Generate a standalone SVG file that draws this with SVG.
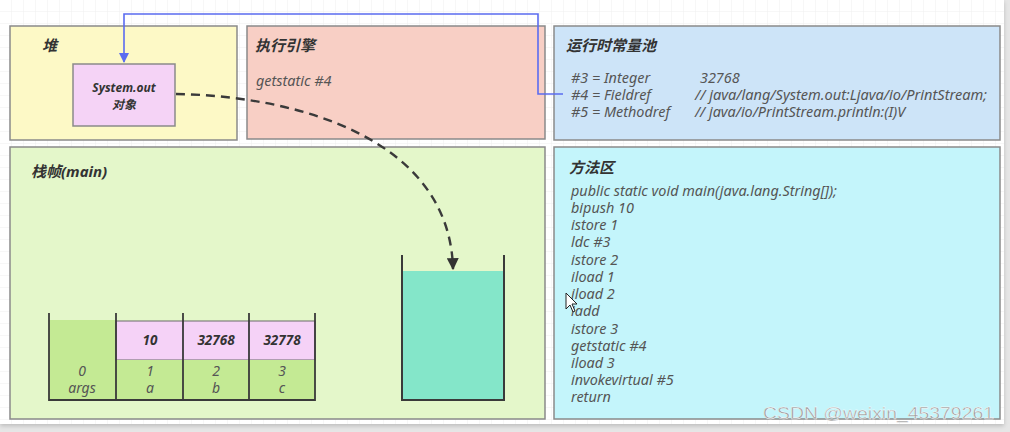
<svg xmlns="http://www.w3.org/2000/svg" width="1010" height="432" viewBox="0 0 1010 432">
<defs>
<style>
.box{stroke:#8a8a8a;stroke-width:1.5}
.title{font-family:"Noto Sans","Noto Sans CJK SC",sans-serif;font-weight:bold;font-style:italic;font-size:15px;fill:#333}
.code{font-family:"Noto Sans","Noto Sans CJK SC",sans-serif;font-style:italic;font-size:14.4px;fill:#555}
.cell{font-family:"Noto Sans",sans-serif;font-style:italic;font-size:14px;fill:#555;text-anchor:middle}
.val{font-family:"Noto Sans",sans-serif;font-style:italic;font-weight:bold;font-size:13.5px;fill:#333;text-anchor:middle}
.wall{stroke:#3a3a3a;stroke-width:2;fill:none}
</style>
<pattern id="grid" width="12" height="12" patternUnits="userSpaceOnUse">
<path d="M12 0V12M0 12H12" stroke="#efefef" stroke-width="1" fill="none"/>
</pattern>
<marker id="blueHead" viewBox="0 0 10 10" refX="9" refY="5" markerWidth="10" markerHeight="10" markerUnits="userSpaceOnUse" orient="auto">
<path d="M0 0L10 5L0 10z" fill="#5b6cf0"/>
</marker>
<marker id="darkHead" viewBox="0 0 10 10" refX="9" refY="5" markerWidth="12" markerHeight="12" markerUnits="userSpaceOnUse" orient="auto">
<path d="M0 0L10 5L0 10z" fill="#333"/>
</marker>
<filter id="sh" x="-5%" y="-5%" width="110%" height="115%">
<feDropShadow dx="0" dy="2" stdDeviation="2" flood-color="#000" flood-opacity="0.18"/>
</filter>
</defs>
<rect x="0" y="0" width="1010" height="432" fill="#e6e6e6"/>
<rect x="0" y="0" width="1004" height="424" fill="#fff" filter="url(#sh)"/>
<rect x="0" y="0" width="1004" height="424" fill="url(#grid)"/>

<g id="heap">
<rect class="box" x="10" y="26" width="227" height="114" fill="#fdf9c6"/>
<text class="title" x="42" y="51">堆</text>
</g>
<g id="system-out">
<rect class="box" x="73" y="64" width="102" height="62" fill="#f5d3f6"/>
<text class="val" x="124" y="92" style="font-size:12px">System.out</text>
<text class="val" x="124" y="109" style="font-family:'Noto Sans CJK SC',sans-serif;font-size:12px">对象</text>
</g>
<g id="exec-engine">
<rect class="box" x="247" y="26" width="298" height="113" fill="#f8cfc5"/>
<text class="title" x="255" y="51">执行引擎</text>
<text class="code" x="256" y="86">getstatic #4</text>
</g>
<g id="constant-pool">
<rect class="box" x="554" y="26" width="446" height="114" fill="#cde4f8"/>
<text class="title" x="566" y="51">运行时常量池</text>
<text class="code" x="571" y="83">#3 = Integer</text>
<text class="code" x="700" y="83">32768</text>
<text class="code" x="571" y="100">#4 = Fieldref</text>
<text class="code" x="695" y="100" textLength="292" lengthAdjust="spacingAndGlyphs">// java/lang/System.out:Ljava/io/PrintStream;</text>
<text class="code" x="571" y="117">#5 = Methodref</text>
<text class="code" x="695" y="117">// java/io/PrintStream.println:(I)V</text>
</g>
<g id="stack-frame">
<rect class="box" x="10" y="147" width="535" height="272" fill="#e4f7ca"/>
<text class="title" x="31" y="177">栈帧(main)</text>
</g>
<g id="local-vars">
<rect x="49" y="320" width="67" height="80" fill="#c4ea94"/>
<rect x="116" y="321" width="199" height="39" fill="#f5d2f7" stroke="#6a6a6a" stroke-width="1"/>
<rect x="116" y="360" width="199" height="40" fill="#c4ea94"/>
<path d="M49 313V400H315V313M116 313V400M183 313V400M249 313V400" stroke="#3a3a3a" stroke-width="1.8" fill="none"/>
<text class="val" x="150" y="345">10</text>
<text class="val" x="216" y="345">32768</text>
<text class="val" x="282" y="345">32778</text>
<text class="cell" x="82" y="376">0</text>
<text class="cell" x="82" y="393">args</text>
<text class="cell" x="150" y="376">1</text>
<text class="cell" x="150" y="393">a</text>
<text class="cell" x="216" y="376">2</text>
<text class="cell" x="216" y="393">b</text>
<text class="cell" x="282" y="376">3</text>
<text class="cell" x="282" y="393">c</text>
</g>
<g id="operand-stack">
<rect x="402" y="271" width="102" height="129" fill="#84e6c9"/>
<path class="wall" d="M402 255V400H504V255"/>
</g>
<g id="method-area">
<rect class="box" x="554" y="147" width="446" height="272" fill="#c4f5fb"/>
<text class="title" x="569" y="173">方法区</text>
<text class="code" x="571" y="196">public static void main(java.lang.String[]);</text>
<text class="code" x="571" y="213">bipush 10</text>
<text class="code" x="571" y="230">istore 1</text>
<text class="code" x="571" y="247">ldc #3</text>
<text class="code" x="571" y="265">istore 2</text>
<text class="code" x="571" y="282">iload 1</text>
<text class="code" x="571" y="299">iload 2</text>
<text class="code" x="571" y="316">iadd</text>
<text class="code" x="571" y="334">istore 3</text>
<text class="code" x="571" y="351">getstatic #4</text>
<text class="code" x="571" y="368">iload 3</text>
<text class="code" x="571" y="385">invokevirtual #5</text>
<text class="code" x="571" y="402">return</text>
</g>
<g id="connectors">
<path d="M563 94H538V14H124V62" fill="none" stroke="#5b6cf0" stroke-width="1.6" marker-end="url(#blueHead)"/>
<path d="M176 94C300 96 450 140 453 269" fill="none" stroke="#3a3a3a" stroke-width="2.4" stroke-dasharray="9 6" marker-end="url(#darkHead)"/>
</g>
<path d="M566 293V309L570 305L573 312L575 311L572 304L577 304Z" fill="#fff" stroke="#222" stroke-width="1"/>
<text x="763" y="419" font-family="Liberation Sans, sans-serif" font-size="17" fill="#9a9a9a" stroke="#fff" stroke-width="0.4" textLength="231" lengthAdjust="spacingAndGlyphs">CSDN @weixin_45379261</text>
</svg>
